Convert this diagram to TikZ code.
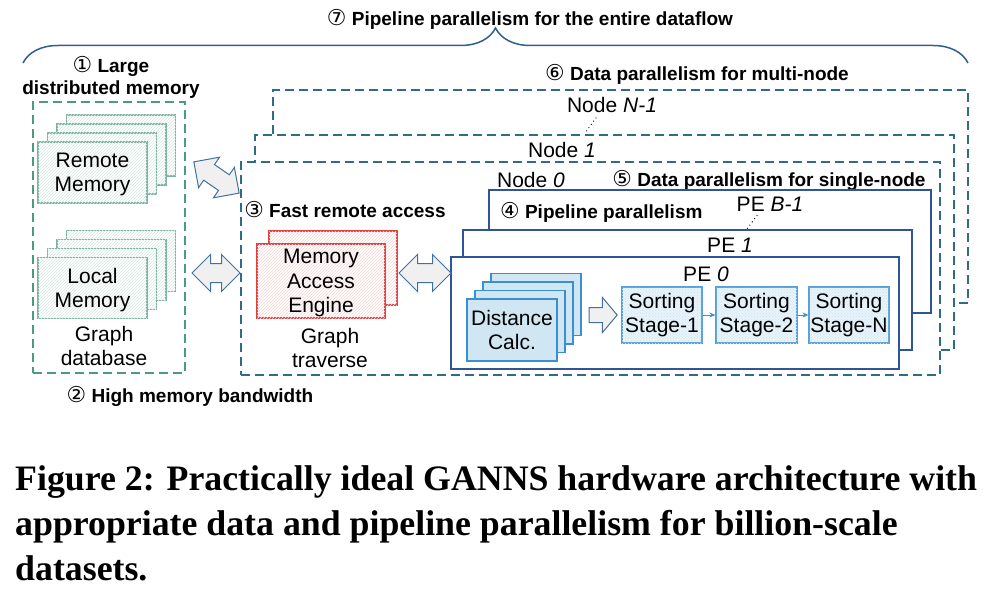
\documentclass[tikz,border=0pt]{standalone}
\usepackage{fontspec}
\setmainfont{Liberation Sans}
\newfontfamily\circfont{DejaVu Sans}
\newfontfamily\capfont{Liberation Serif}
\usetikzlibrary{arrows.meta, positioning, shapes.arrows, calc,
                decorations.pathreplacing, patterns}

\definecolor{nodeblue}{RGB}{46,108,138}
\definecolor{memgreen}{RGB}{78,154,126}
\definecolor{peblue}{RGB}{47,85,151}
\definecolor{calcblue}{RGB}{58,143,208}
\definecolor{calcfill}{RGB}{208,231,243}
\definecolor{sortfill}{RGB}{232,243,250}
\definecolor{maered}{RGB}{224,64,64}
\definecolor{arrblue}{RGB}{65,113,156}
\definecolor{bracecol}{RGB}{47,95,143}

\newcommand{\cnum}[1]{{\circfont\mdseries\scalebox{1.15}{#1}}}

\begin{document}
\begin{tikzpicture}[x=1pt, y=-1pt,
    >=Stealth,
    txt/.style={font=\fontsize{21}{24.5}\selectfont, align=center, inner sep=0pt},
    lbl/.style={font=\fontsize{19}{22}\selectfont\bfseries, align=center, inner sep=0pt},
    nodebox/.style={draw=nodeblue, line width=2.2pt, dash pattern=on 9pt off 5pt,
                    fill=white, inner sep=0pt},
    pebox/.style={draw=peblue, line width=1.6pt, fill=white, inner sep=0pt},
    memcard/.style={draw=memgreen!75, line width=1.2pt, fill=white, inner sep=0pt,
                    postaction={pattern=north east lines, pattern color=memgreen!22},
                    minimum width=109pt, minimum height=61pt, text depth=0pt},
    maecard/.style={draw=maered, line width=1.2pt, fill=white, inner sep=0pt,
                    postaction={pattern=north east lines, pattern color=maered!22},
                    minimum width=128pt, minimum height=74pt, text depth=0pt},
    calccard/.style={draw=calcblue, line width=1.2pt, fill=calcfill, inner sep=0pt,
                     minimum width=90pt, minimum height=62pt, text depth=0pt},
    sortbox/.style={draw=calcblue!85, line width=1.2pt, fill=sortfill, inner sep=0pt,
                    postaction={pattern=crosshatch dots, pattern color=calcblue!25},
                    minimum width=80pt, minimum height=56pt},
    blockarr/.style={double arrow, draw=arrblue, fill=gray!12, line width=1pt,
                     inner xsep=0pt, inner ysep=9pt, double arrow head extend=9pt,
                     minimum height=48pt},
    dotdot/.style={line width=1.3pt, dash pattern=on 0pt off 4pt, line cap=round}
  ]
  \useasboundingbox (0,0) rectangle (991,591);

  % brace over the whole dataflow
  \draw[bracecol, line width=1.5pt, decorate, decoration={brace, amplitude=35pt}]
    (23,63) -- (968,63);
  \node[lbl] (lbl7) at (530,19) {\cnum{⑦} Pipeline parallelism for the entire dataflow};

  % graph database
  \node[lbl] (lbl1) at (111,77) {\cnum{①} Large\\distributed memory};
  \node[draw=memgreen, line width=2.2pt, dash pattern=on 9pt off 5pt,
        minimum width=152pt, minimum height=271pt, inner sep=0pt] (gdb) at (109,237.5) {};
  \foreach \k in {3,2,1} {
    \node[memcard] (remote\k) at ({92.5+\k*9.5},{172.5-\k*9}) {};
    \node[memcard] (local\k) at ({92.5+\k*9.5},{288-\k*9}) {};
  }
  \node[memcard, txt] (remote) at (92.5,172.5) {Remote\\Memory};
  \node[memcard, txt] (local) at (92.5,288) {Local\\Memory};
  \node[txt] (gdblbl) at (104,346) {Graph\\database};
  \node[lbl] (lbl2) at (190,396) {\cnum{②} High memory bandwidth};

  % nodes
  \node[nodebox, minimum width=695pt, minimum height=213pt] (nodeNm1) at (620.5,196.5) {};
  \node[nodebox, minimum width=699pt, minimum height=215pt] (node1) at (604.5,242.5) {};
  \node[nodebox, minimum width=699pt, minimum height=213pt] (node0) at (590.5,268.5) {};
  \node[txt] (lblNN) at (612,105) {Node \textit{N-1}};
  \node[txt] (lblN1) at (562,150) {Node \textit{1}};
  \node[txt] (lblN0) at (531,180) {Node \textit{0}};
  \coordinate (dotN) at (585,133);
  \draw[dotdot] ([xshift=-16pt,yshift=-5pt]lblNN.south) -- (dotN);
  \node[lbl] (lbl6) at (697,74) {\cnum{⑥} Data parallelism for multi-node};
  \node[lbl] (lbl5) at (769,180) {\cnum{⑤} Data parallelism for single-node};
  \node[lbl] (lbl3) at (345,210) {\cnum{③} Fast remote access};

  % memory access engine
  \node[maecard] (mae1) at (333,268) {};
  \node[maecard, txt] (mae) at (321,281) {Memory\\Access\\Engine};
  \node[txt] (gtlbl) at (330,348) {Graph\\traverse};

  % processing elements
  \node[pebox, minimum width=442pt, minimum height=123pt] (peB) at (710,251.5) {};
  \node[pebox, minimum width=449pt, minimum height=120pt] (pe1) at (687.5,290) {};
  \node[pebox, minimum width=448pt, minimum height=112pt] (pe0) at (675,313) {};
  \node[lbl, anchor=west] (lbl4) at (500,212) {\cnum{④} Pipeline parallelism};
  \node[txt] (lblPB) at (770,204) {PE \textit{B-1}};
  \node[txt] (lblP1) at (730,245) {PE \textit{1}};
  \node[txt] (lblP0) at (706,274) {PE \textit{0}};
  \coordinate (dotP) at (747,229);
  \draw[dotdot] ([xshift=-13pt,yshift=-4pt]lblPB.south) -- (dotP);

  \foreach \k in {3,2,1}
    \node[calccard] (calc\k) at ({512+\k*8},{330-\k*8.5}) {};
  \node[calccard, txt] (calc) at (512,330) {Distance\\Calc.};

  \node[sortbox, txt] (sort1) at (662,315) {Sorting\\Stage-1};
  \node[sortbox, txt, minimum width=81pt] (sort2) at (756.5,315) {Sorting\\Stage-2};
  \node[sortbox, txt] (sortN) at (849,315) {Sorting\\Stage-N};
  \draw[->, calcblue, line width=0.8pt, >={Stealth[length=6pt,width=5pt]}] (sort1) -- (sort2);
  \draw[->, calcblue, line width=0.8pt, >={Stealth[length=6pt,width=5pt]}] (sort2) -- (sortN);

  % block arrows
  \node[blockarr, rotate=-34.6, minimum height=55pt] (arrR) at (216.5,177.5) {};
  \node[blockarr] (arrL) at (216,273) {};
  \node[blockarr, minimum height=52pt] (arrM) at (425,273) {};
  \node[single arrow, draw=arrblue, fill=gray!12, line width=1pt, inner xsep=0pt,
        inner ysep=7pt, single arrow head extend=10pt, single arrow tip angle=100,
        minimum height=28pt] (arrC) at (600,315) {};

  % caption
  \begin{scope}[every node/.style={anchor=base west, inner sep=0pt,
      font=\capfont\bfseries\fontsize{35.8}{45}\selectfont}]
    \node (cap1) at (15,490) {Figure 2: Practically ideal GANNS hardware architecture with};
    \node (cap2) at (15,535) {appropriate data and pipeline parallelism for billion-scale};
    \node (cap3) at (15,580) {datasets.};
  \end{scope}
\end{tikzpicture}
\end{document}
